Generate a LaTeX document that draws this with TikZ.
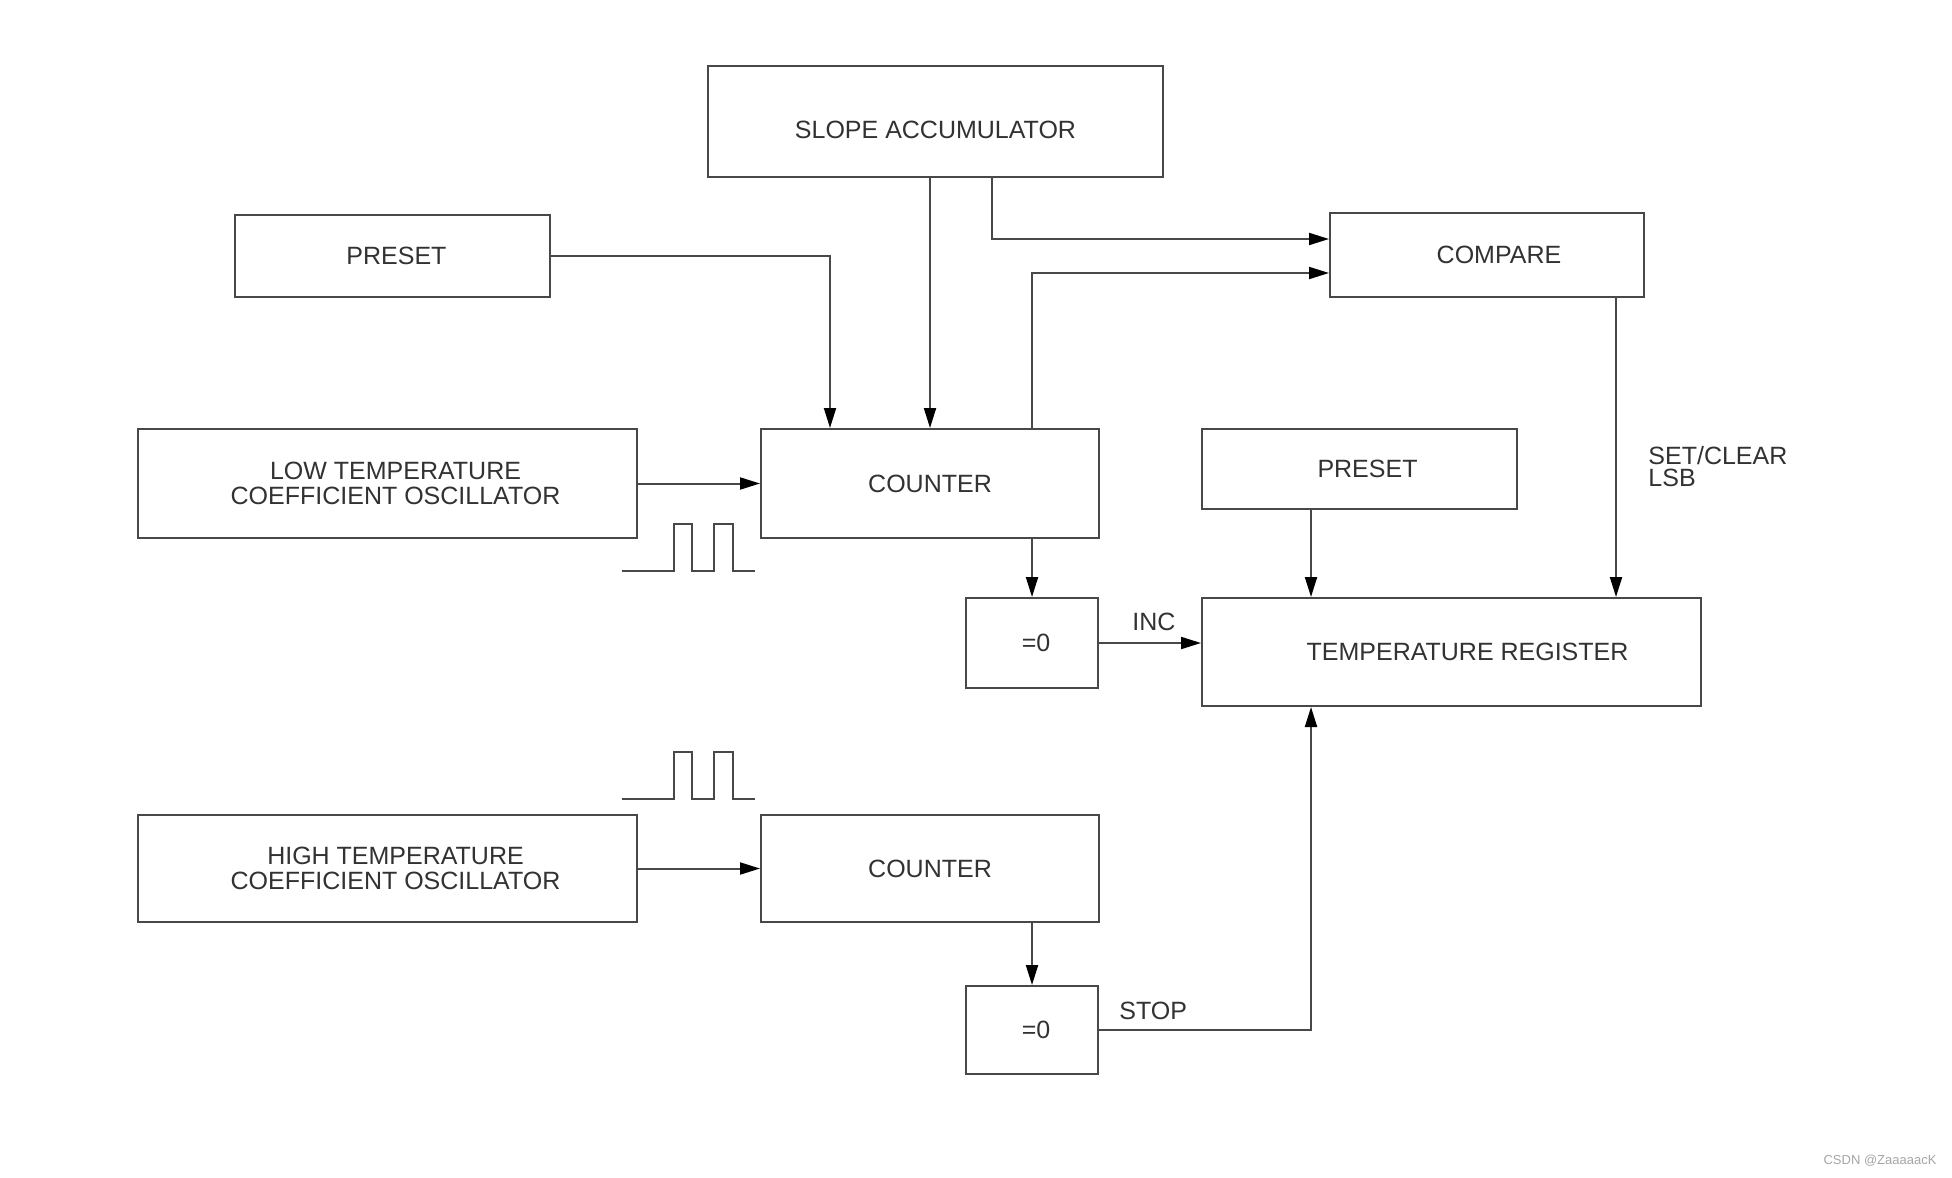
\documentclass[tikz,border=0pt]{standalone}
\usepackage{fontspec}
\setmainfont{Liberation Sans}
\usepackage{tikz}
\usetikzlibrary{arrows.meta,positioning,calc}
\definecolor{WireGray}{RGB}{72,72,72}
\definecolor{InkGray}{RGB}{50,50,50}
\colorlet{wire}{WireGray}
\colorlet{ink}{InkGray}

\begin{document}
\begin{tikzpicture}[x=0.5pt,y=-0.5pt,
    blk/.style 2 args={draw=wire,line width=1pt,inner sep=0pt,
      minimum width=#1*0.5pt,minimum height=#2*0.5pt},
    txt/.style={text=ink,inner sep=0pt,align=center,font=\fontsize{12.5}{12.5}\selectfont},
    sig/.style={draw=wire,line width=1pt,-{Triangle[length=10pt,width=6pt,color=black]}},
    tag/.style={text=ink,inner sep=0pt,align=left,font=\fontsize{12.5}{11.2}\selectfont}]
  \fill[white] (0,0) rectangle (1952,1177);
  \useasboundingbox (0,0) rectangle (1952,1177);
  % blocks
  \node[blk={455}{111},label={[txt,yshift=-4pt]center:SLOPE ACCUMULATOR}] (slope) at (935.5,121.5) {};
  \node[blk={315}{82},label={[txt,xshift=2pt]center:PRESET}] (presetA) at (392.5,256) {};
  \node[blk={314}{84},label={[txt,xshift=6pt]center:COMPARE}] (compare) at (1487,255) {};
  \node[blk={499}{109},label={[txt,xshift=4pt]center:LOW TEMPERATURE\\COEFFICIENT OSCILLATOR}] (lowosc) at (387.5,483.5) {};
  \node[blk={338}{109},label={[txt]center:COUNTER}] (cnt1) at (930,483.5) {};
  \node[blk={315}{80},label={[txt,xshift=4pt]center:PRESET}] (presetB) at (1359.5,469) {};
  \node[blk={132}{90},label={[txt,xshift=2pt]center:=0}] (zero1) at (1032,643) {};
  \node[blk={499}{108},label={[txt,xshift=8pt]center:TEMPERATURE REGISTER}] (tempreg) at (1451.5,652) {};
  \node[blk={499}{107},label={[txt,xshift=4pt]center:HIGH TEMPERATURE\\COEFFICIENT OSCILLATOR}] (highosc) at (387.5,868.5) {};
  \node[blk={338}{107},label={[txt]center:COUNTER}] (cnt2) at (930,868.5) {};
  \node[blk={132}{88},label={[txt,xshift=2pt]center:=0}] (zero2) at (1032,1030) {};
  % tap points
  \coordinate (pa) at ($(cnt1.north)+(-100,0)$);
  \coordinate (sa) at ($(slope.south)+(56.5,0)$);
  \coordinate (pb) at ($(presetB.south)+(-48.5,0)$);
  \coordinate (cs) at ($(compare.south)+(129,0)$);
  % connectors
  \draw[sig] (presetA.east) -| (pa);
  \draw[sig] (slope.south -| cnt1.north) -- (cnt1.north);
  \draw[sig] (sa) |- ($(compare.west)+(0,-16)$);
  \draw[sig] (cnt1.north -| zero1.north) |- ($(compare.west)+(0,18)$);
  \draw[sig] (lowosc.east) -- (cnt1.west);
  \draw[sig] (cnt1.south -| zero1.north) -- (zero1.north);
  \draw[sig] (zero1.east) -- (zero1.east -| tempreg.west);
  \draw[sig] (pb) -- (pb |- tempreg.north);
  \draw[sig] (cs) -- (cs |- tempreg.north);
  \draw[sig] (highosc.east) -- (cnt2.west);
  \draw[sig] (cnt2.south -| zero2.north) -- (zero2.north);
  \draw[sig] (zero2.east) -| (pb |- tempreg.south);
  % labels
  \node[tag,anchor=south west] (inc)  at ($(zero1.east)+(33,-12)$) {INC};
  \node[tag,anchor=south west] (stop) at ($(zero2.east)+(20,-10)$) {STOP};
  \node[tag,anchor=north west] (lsb)  at ($(cs)+(32,148)$) {SET/CLEAR\\LSB};
  % clock pulses
  \foreach \lo/\hi in {571/524,799/752}{
    \draw[wire,line width=1pt] (622,\lo) -- (674,\lo) -- (674,\hi) -- (692,\hi) -- (692,\lo)
      -- (714,\lo) -- (714,\hi) -- (733,\hi) -- (733,\lo) -- (755,\lo);
  }
  \node[text=gray!70,font=\fontsize{6.5}{6.5}\selectfont,inner sep=0pt] (mark) at (1880,1161) {CSDN @ZaaaaacK};
\end{tikzpicture}
\end{document}
